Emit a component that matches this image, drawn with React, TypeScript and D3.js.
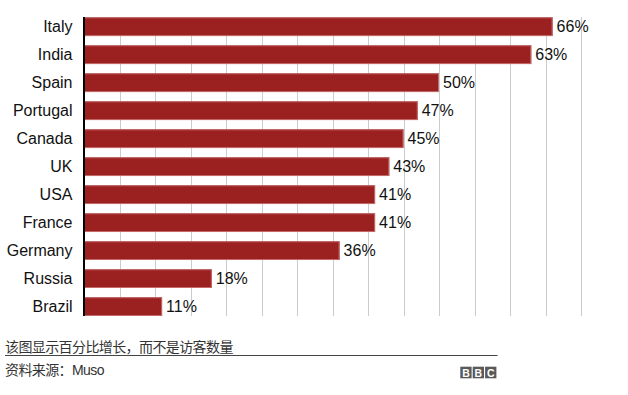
import React from "react";
import * as d3 from "d3";

const countries = ["Italy", "India", "Spain", "Portugal", "Canada", "UK", "USA", "France", "Germany", "Russia", "Brazil"];
const values = [66, 63, 50, 47, 45, 43, 41, 41, 36, 18, 11];
const gridTicks = [5, 10, 15, 20, 25, 30, 35, 40, 45, 50, 55, 60, 65, 70];
const noteText = "该图显示百分比增长，而不是访客数量";
const sourceText = "资料来源：Muso";
const logoLetters = ["B", "B", "C"];

const W = 628;
const H = 395;
const LATIN = "'Liberation Sans', Arial, Helvetica, sans-serif";
const CJK = "'Liberation Sans', 'Noto Sans CJK SC', sans-serif";

export default function App() {
  const x = d3.scaleLinear().domain([0, 70]).range([84, 581]);
  const y = d3.scaleBand<string>().domain(countries).range([17.3, 316]).paddingInner(0.33).paddingOuter(0);
  const bw = y.bandwidth();
  const top = 17;
  const bottom = 316;

  return (
    <svg width={W} height={H} style={{ position: "absolute", left: 0, top: 0, display: "block", background: "#fff" }}>
      {gridTicks.map((t) => (
        <line key={t} x1={Math.round(x(t)) + 0.5} x2={Math.round(x(t)) + 0.5} y1={top} y2={bottom} stroke="#cccccc" strokeWidth={1} />
      ))}
      {countries.map((c, i) => {
        const yy = y(c)!;
        const xe = x(values[i]);
        return (
          <g key={c}>
            <rect x={x(0)} y={yy} width={xe - x(0)} height={bw} fill="#9b2020" />
            <rect x={x(0) + 0.5} y={yy + 0.5} width={xe - x(0) - 1} height={bw - 1} fill="none" stroke="#c46b6b" strokeWidth={1} />
            <text x={72.5} y={yy + bw / 2 + 5.8} textAnchor="end" fontFamily={LATIN} fontSize={16} fill="#111">{c}</text>
            <text x={xe + 4} y={yy + bw / 2 + 5.8} textAnchor="start" fontFamily={LATIN} fontSize={16} fill="#111">{values[i] + "%"}</text>
          </g>
        );
      })}
      <line x1={84} x2={84} y1={top} y2={bottom} stroke="#000" strokeWidth={2} />
      <text x={5} y={351.5} fontFamily={CJK} fontSize={14} letterSpacing={-0.6} fill="#333">{noteText}</text>
      <line x1={5} x2={497.5} y1={355.5} y2={355.5} stroke="#444" strokeWidth={1.2} />
      <text x={5} y={375} fontFamily={CJK} fontSize={14} letterSpacing={-0.6} fill="#333">{sourceText}</text>
      {logoLetters.map((l, i) => {
        const bx = 460.3 + i * 12.4;
        return (
          <g key={i}>
            <rect x={bx} y={366.7} width={11.3} height={11.6} fill="#5a5a5a" />
            <text x={bx + 5.65} y={376.6} textAnchor="middle" fontFamily={LATIN} fontWeight="bold" fontSize={10.5} fill="#fff">{l}</text>
          </g>
        );
      })}
    </svg>
  );
}
